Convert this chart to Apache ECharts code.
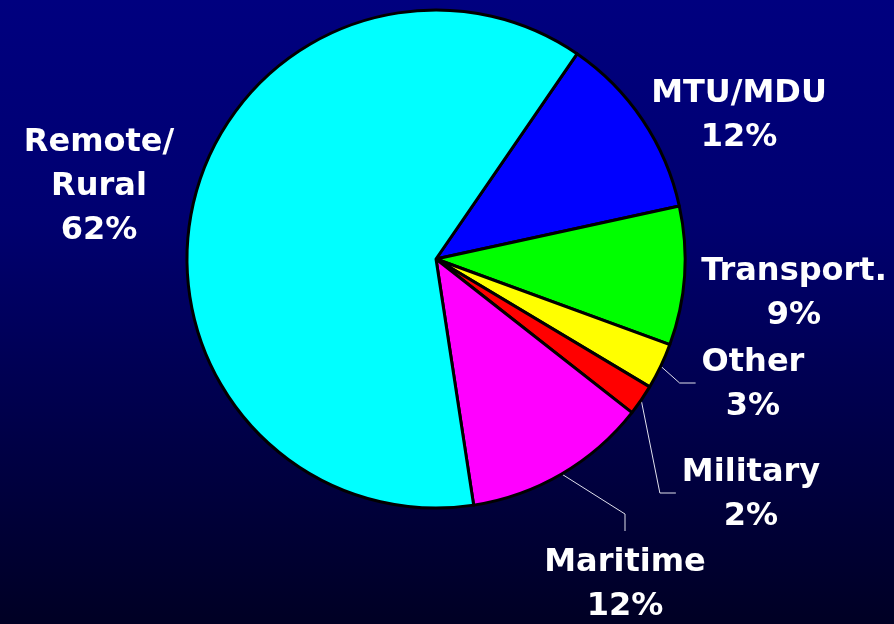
<!DOCTYPE html>
<html>
<head>
<meta charset="utf-8">
<script src="https://cdn.jsdelivr.net/npm/echarts@6/dist/echarts.min.js"></script>
<style>
  html, body { margin: 0; padding: 0; }
  #chart { width: 894px; height: 624px; }
</style>
</head>
<body>
<div id="chart"></div>
<script>
// 数据
var categories = ['MTU/MDU', 'Transport.', 'Other', 'Military', 'Maritime', 'Remote/\nRural']
var shares = [12, 9, 3, 2, 12, 62]
var sliceColors = ['#0000ff', '#00ff00', '#ffff00', '#ff0000', '#ff00ff', '#00ffff']

// label centres (px) and which side the guide line enters the label from
var labelPos = [[739, 116], [794, 294], [753, 385], [751, 495], [625, 585], [99, 187]]
var lineSide = [null, null, 'left', 'left', 'top', null]

var chart = echarts.init(document.getElementById('chart'))

chart.setOption({
  backgroundColor: {
    type: 'linear', x: 0, y: 0, x2: 0, y2: 1,
    colorStops: [
      { offset: 0, color: '#00007f' },
      { offset: 0.35, color: '#000070' },
      { offset: 1, color: '#000024' }
    ]
  },
  series: [{
    type: 'pie',
    center: [436, 259],
    radius: 249,
    startAngle: 55.5,
    clockwise: true,
    avoidLabelOverlap: false,
    animation: false,
    itemStyle: {
      borderColor: '#000',
      borderWidth: 3
    },
    label: {
      show: true,
      position: 'outside',
      formatter: '{b}\n{c}%',
      color: '#fff',
      fontFamily: 'DejaVu Sans',
      fontWeight: 'bold',
      fontSize: 32,
      lineHeight: 44,
      align: 'center'
    },
    labelLine: {
      show: true,
      lineStyle: { color: '#e0e0ec', width: 1 }
    },
    labelLayout: function(params) {
      var i = params.dataIndex
      var pos = labelPos[i]
      var w = params.labelRect.width
      var h = params.labelRect.height
      var out = { x: pos[0], y: pos[1], align: 'center', verticalAlign: 'middle' }
      var pts = params.labelLinePoints
      if (lineSide[i] && pts) {
        var start = pts[0]
        if (lineSide[i] === 'left') {
          var left = pos[0] - w / 2
          out.labelLinePoints = [start, [left - 22, pos[1] - 2], [left - 6, pos[1] - 2]]
        } else {
          var top = pos[1] - h / 2
          out.labelLinePoints = [start, [pos[0], top - 27], [pos[0], top - 10]]
        }
      }
      return out
    },
    data: categories.map(function(name, i) {
      return {
        name: name,
        value: shares[i],
        itemStyle: { color: sliceColors[i] },
        labelLine: { show: !!lineSide[i] }
      }
    })
  }]
})
</script>
</body>
</html>
